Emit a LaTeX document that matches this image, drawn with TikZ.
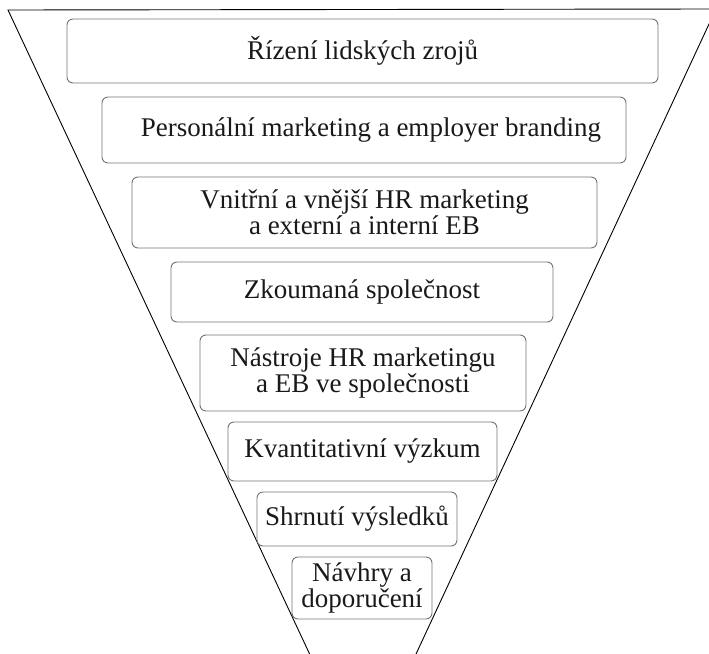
\documentclass[tikz,border=0pt]{standalone}
\usepackage{fontspec}
\setmainfont{Liberation Serif}
\usepackage{tikz}
\usetikzlibrary{positioning}

\begin{document}
\begin{tikzpicture}[x=1pt,y=-1pt,
  stage/.style={draw=black!55, line width=.9pt, rounded corners=6pt, align=center,
    inner sep=0pt, text=black!90, font=\fontsize{27}{26}\selectfont}]
\useasboundingbox (0,0) rectangle (709,653);
\clip (0,0) rectangle (709,653);
% the funnel
\coordinate (tl) at (8,10);
\coordinate (tr) at (716,9);
\coordinate (tip) at (363,768);
\draw[line width=.9pt] (tip) -- (tl) -- (tr) -- (tip);
% stages, widest on top
\node[stage, minimum width=591pt, minimum height=64pt] (hrm) at (362.5,51) {Řízení lidských zrojů};
\node[stage, minimum width=524pt, minimum height=66pt] (pm) at (364,130) {\hspace*{14pt}Personální marketing a employer branding};
\node[stage, minimum width=465pt, minimum height=71pt] (ext) at (364.5,212.5) {Vnitřní a vnější HR marketing\\a externí a interní EB};
\node[stage, minimum width=382pt, minimum height=60pt] (firm) at (362,292) {Zkoumaná společnost};
\node[stage, minimum width=326pt, minimum height=76pt] (tools) at (363,373) {Nástroje HR marketingu\\a EB ve společnosti};
\node[stage, minimum width=269pt, minimum height=59pt] (res) at (362.5,451.5) {Kvantitativní výzkum};
\node[stage, minimum width=200pt, minimum height=54pt] (sum) at (357,519) {Shrnutí výsledků};
\node[stage, minimum width=140pt, minimum height=62pt] (rec) at (362,588) {Návhry a\\doporučení};
\end{tikzpicture}
\end{document}
